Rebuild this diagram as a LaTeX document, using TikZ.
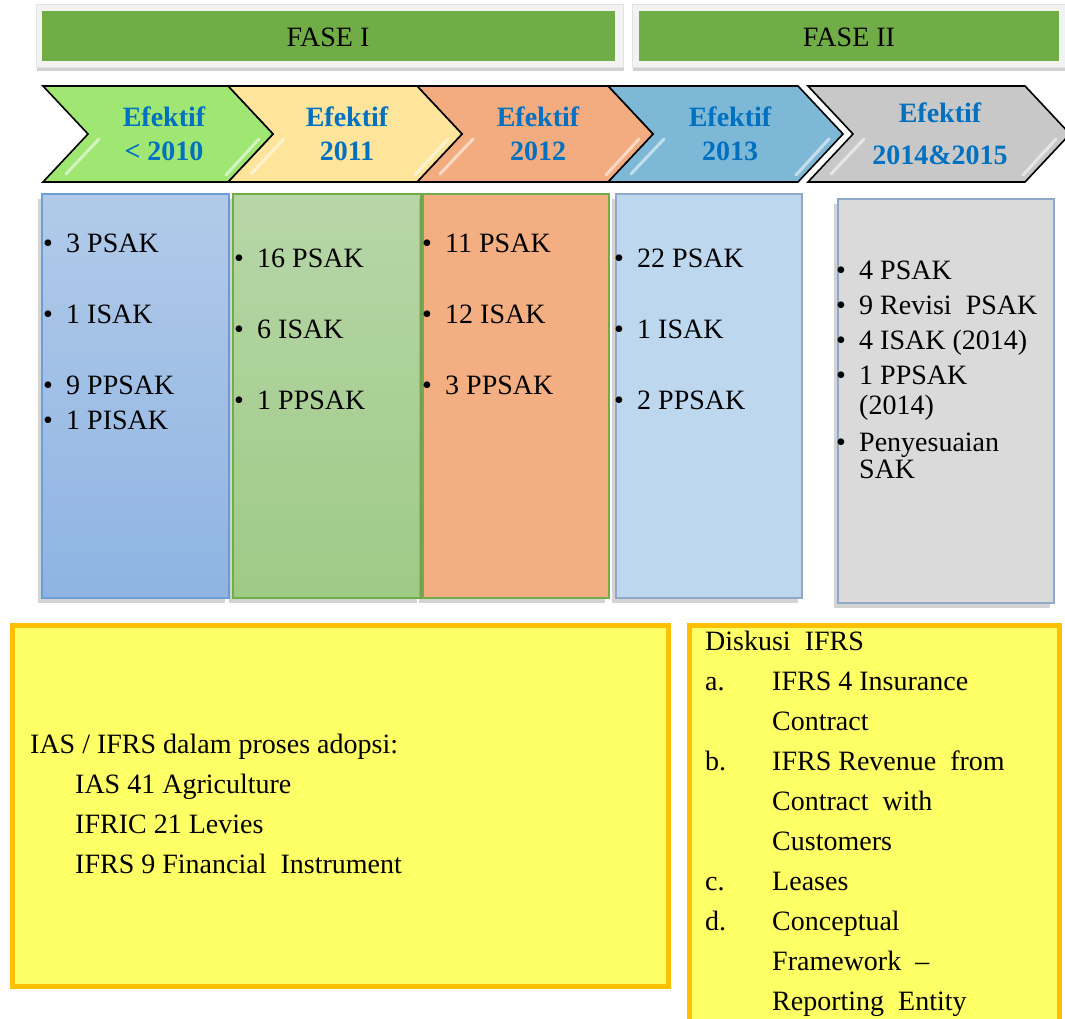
\documentclass[tikz,border=0pt]{standalone}
\usepackage{fontspec}
\setmainfont{Liberation Serif}
\usetikzlibrary{shadows}

\definecolor{fasegreen}{HTML}{70AD47}
\definecolor{faseframe}{HTML}{F2F2F2}
\definecolor{faseline}{HTML}{E2E2E2}
\definecolor{efblue}{HTML}{0070C0}
\definecolor{chgreen}{HTML}{A0E673}
\definecolor{chyellow}{HTML}{FFE49B}
\definecolor{chorange}{HTML}{F2AC80}
\definecolor{chblue}{HTML}{7DB8D7}
\definecolor{chgray}{HTML}{C8C8C8}
\definecolor{colatop}{HTML}{B1CAE9}
\definecolor{colabot}{HTML}{8EB4E2}
\definecolor{colaline}{HTML}{6A9FD8}
\definecolor{colbtop}{HTML}{B7D6A8}
\definecolor{colbbot}{HTML}{9ECA86}
\definecolor{colcfill}{HTML}{F3AF82}
\definecolor{coldfill}{HTML}{BDD7EE}
\definecolor{coldline}{HTML}{8FA9C8}
\definecolor{colefill}{HTML}{DADADA}
\definecolor{noteyellow}{HTML}{FFFF66}
\definecolor{noteorange}{HTML}{FFC000}

\newcommand{\itembul}{\makebox[23pt][l]{\textbullet}}
\newcommand{\itemgap}{\hspace*{23pt}}

\begin{document}
\begin{tikzpicture}[x=1pt, y=-1pt,
	every node/.style={inner sep=0pt, font=\fontsize{28}{34}\selectfont},
	frame/.style={fill=faseframe, draw=faseline, line width=0.8pt,
		drop shadow={shadow xshift=1pt, shadow yshift=-4pt, fill=black!40, opacity=0.45}},
	bar/.style={fill=fasegreen},
	chev/.style={draw=black, line width=1.6pt},
	shine/.style={draw=white, line width=3pt, opacity=0.55, line cap=round},
	eftext/.style={anchor=base, text=efblue, font=\fontsize{28}{34}\selectfont\bfseries},
	col/.style={line width=1.6pt,
		drop shadow={shadow xshift=-4pt, shadow yshift=-5pt, opacity=0.35}},
	entry/.style={anchor=base west},
	note/.style={fill=noteyellow, draw=noteorange, line width=5pt}
]
		\useasboundingbox (0,0) rectangle (1065,1019);
		\clip (0,0) rectangle (1065,1019);

		% fase bars
		\draw[frame] (36,4) rectangle (623,67);
		\fill[bar] (42,11) rectangle (615,61);
		\draw (328,47) node [anchor=base] (fase1) {FASE I};
		\draw[frame] (632,4) rectangle (1070,67);
		\fill[bar] (639,11) rectangle (1059,61);
		\draw (849,47) node [anchor=base] (fase2) {FASE II};

		% chevrons
		\draw[chev, fill=chgray] (808,86) -- (1025,86) -- (1070,134) -- (1025,182) -- (808,182) -- (853,134) -- cycle;
		\draw[chev, fill=chblue] (608,86) -- (798,86) -- (843,134) -- (798,182) -- (608,182) -- (653,134) -- cycle;
		\draw[chev, fill=chorange] (417,86) -- (608,86) -- (653,134) -- (608,182) -- (417,182) -- (462,134) -- cycle;
		\draw[chev, fill=chyellow] (228,86) -- (417,86) -- (462,134) -- (417,182) -- (228,182) -- (273,134) -- cycle;
		\draw[chev, fill=chgreen] (43,86) -- (228,86) -- (273,134) -- (228,182) -- (43,182) -- (88,134) -- cycle;

		\draw[shine] (226,175) -- (259,139);
		\draw[shine] (66,174) -- (99,139);
		\draw[shine] (415,175) -- (448,139);
		\draw[shine] (251,174) -- (284,139);
		\draw[shine] (606,175) -- (639,139);
		\draw[shine] (440,174) -- (473,139);
		\draw[shine] (796,175) -- (829,139);
		\draw[shine] (631,174) -- (664,139);
		\draw[shine] (1023,175) -- (1056,139);
		\draw[shine] (831,174) -- (864,139);

		\draw (164,127) node [eftext] (c1a) {Efektif};
		\draw (164,161) node [eftext] (c1b) {< 2010};
		\draw (347,127) node [eftext] (c2a) {Efektif};
		\draw (347,161) node [eftext] (c2b) {2011};
		\draw (538,127) node [eftext] (c3a) {Efektif};
		\draw (538,161) node [eftext] (c3b) {2012};
		\draw (730,127) node [eftext] (c4a) {Efektif};
		\draw (730,161) node [eftext] (c4b) {2013};
		\draw (940,123) node [eftext] (c5a) {Efektif};
		\draw (940,165) node [eftext] (c5b) {2014\&2015};

		% columns
		\draw[col, draw=colaline, top color=colatop, bottom color=colabot] (42,194) rectangle (229,598);
		\draw[col, draw=fasegreen, top color=colbtop, bottom color=colbbot] (233,194) rectangle (421,598);
		\draw[col, draw=fasegreen, fill=colcfill] (423,194) rectangle (609,598);
		\draw[col, draw=coldline, fill=coldfill] (616,194) rectangle (802,598);
		\draw[col, draw=coldline, fill=colefill] (838,199) rectangle (1054,603);

		\draw (43,252) node [entry] (k1a) {\itembul 3 PSAK};
		\draw (43,323) node [entry] (k1b) {\itembul 1 ISAK};
		\draw (43,394) node [entry] (k1c) {\itembul 9 PPSAK};
		\draw (43,429) node [entry] (k1d) {\itembul 1 PISAK};

		\draw (234,267) node [entry] (k2a) {\itembul 16 PSAK};
		\draw (234,338) node [entry] (k2b) {\itembul 6 ISAK};
		\draw (234,409) node [entry] (k2c) {\itembul 1 PPSAK};

		\draw (422,252) node [entry] (k3a) {\itembul 11 PSAK};
		\draw (422,323) node [entry] (k3b) {\itembul 12 ISAK};
		\draw (422,394) node [entry] (k3c) {\itembul 3 PPSAK};

		\draw (614,267) node [entry] (k4a) {\itembul 22 PSAK};
		\draw (614,338) node [entry] (k4b) {\itembul 1 ISAK};
		\draw (614,409) node [entry] (k4c) {\itembul 2 PPSAK};

		\draw (836,279) node [entry] (k5a) {\itembul 4 PSAK};
		\draw (836,314) node [entry] (k5b) {\itembul 9 Revisi\ \ PSAK};
		\draw (836,349) node [entry] (k5c) {\itembul 4 ISAK (2014)};
		\draw (836,384) node [entry] (k5d) {\itembul 1 PPSAK};
		\draw (836,414) node [entry] (k5e) {\itemgap(2014)};
		\draw (836,451) node [entry] (k5f) {\itembul Penyesuaian};
		\draw (836,478) node [entry] (k5g) {\itemgap SAK};

		% yellow notes
		\draw[note] (12.5,625.5) rectangle (668.5,986.5);
		\draw (30,753) node [entry] (n1) {IAS / IFRS dalam proses adopsi:};
		\draw (75,793) node [entry] (n2) {IAS 41 Agriculture};
		\draw (75,833) node [entry] (n3) {IFRIC 21 Levies};
		\draw (75,873) node [entry] (n4) {IFRS 9 Financial\ \ Instrument};

		\draw[note] (689.5,625.5) rectangle (1059.5,1040);
		\draw (705,650) node [entry] (d0) {Diskusi\ \ IFRS};
		\draw (705,690) node [entry] (da) {a.};
		\draw (772,690) node [entry] (da1) {IFRS 4 Insurance};
		\draw (772,730) node [entry] (da2) {Contract};
		\draw (705,770) node [entry] (db) {b.};
		\draw (772,770) node [entry] (db1) {IFRS Revenue\ \ from};
		\draw (772,810) node [entry] (db2) {Contract\ \ with};
		\draw (772,850) node [entry] (db3) {Customers};
		\draw (705,890) node [entry] (dc) {c.};
		\draw (772,890) node [entry] (dc1) {Leases};
		\draw (705,930) node [entry] (dd) {d.};
		\draw (772,930) node [entry] (dd1) {Conceptual};
		\draw (772,970) node [entry] (dd2) {Framework\ \ –};
		\draw (772,1010) node [entry] (dd3) {Reporting\ \ Entity};
\end{tikzpicture}
\end{document}
